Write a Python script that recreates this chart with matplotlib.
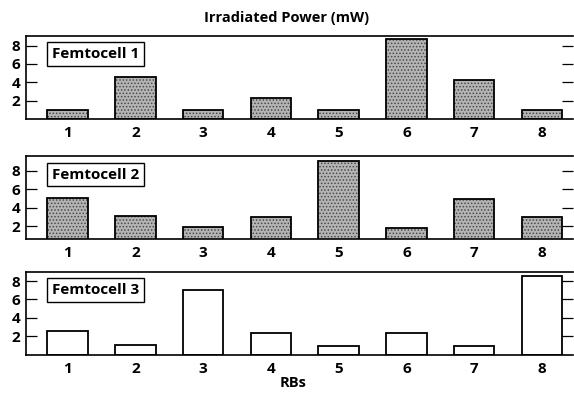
import matplotlib
matplotlib.use("Agg")
from matplotlib import pyplot as plt

rbs = [1, 2, 3, 4, 5, 6, 7, 8]
femto1 = [1.0, 4.55, 1.0, 2.3, 1.0, 8.7, 4.3, 1.0]
femto2 = [5.1, 3.1, 1.85, 2.95, 9.1, 1.8, 4.9, 2.95]
femto3 = [2.55, 1.05, 7.05, 2.35, 1.0, 2.35, 1.0, 8.55]
labels = ["Femtocell 1", "Femtocell 2", "Femtocell 3"]
yticks = [2, 4, 6, 8]

plt.rcParams['font.family'] = ['Open Sans', 'DejaVu Sans']
plt.rcParams['font.weight'] = 'bold'
plt.rcParams['hatch.linewidth'] = 0.7

fig = plt.figure(figsize=(5.74, 3.96), dpi=100)
bottoms = [0.6995, 0.3955, 0.104]
ylims = [(0, 9.05), (0.55, 9.57), (0, 9.0)]
series = [femto1, femto2, femto3]
faces = ['#b4b4b4', '#b4b4b4', 'white']
hatches = ['.....', '.....', None]

for i, vals in enumerate(series):
    ax = fig.add_axes([0.0453, bottoms[i], 0.953, 0.2096])
    ax.bar(rbs, vals, width=0.6, color=faces[i], edgecolor='#4a4a4a',
           hatch=hatches[i], linewidth=0)
    ax.bar(rbs, vals, width=0.6, fill=False, edgecolor='black', linewidth=1.3)
    ax.set_xlim(0.385, 8.46)
    ax.set_ylim(*ylims[i])
    ax.set_xticks(rbs)
    ax.set_yticks(yticks)
    ax.tick_params(axis='x', length=0, labelsize=11, pad=5)
    ax.tick_params(axis='y', direction='in', length=8, width=0.9,
                   labelsize=11, right=True, pad=4)
    for lab in ax.get_xticklabels() + ax.get_yticklabels():
        lab.set_fontweight('bold')
    ax.spines['right'].set_visible(False)
    for s in ['top', 'left', 'bottom']:
        ax.spines[s].set_linewidth(1.2)
    ax.text(0.047, 0.865, labels[i], transform=ax.transAxes, fontsize=11,
            fontweight='bold', va='top', ha='left',
            bbox=dict(boxstyle='square,pad=0.32', facecolor='white',
                      edgecolor='black', linewidth=1.0))

fig.text(0.5, 0.955, "Irradiated Power (mW)", ha='center', va='center',
         fontsize=10.5, fontweight='bold')
fig.text(0.51, 0.032, "RBs", ha='center', va='center', fontsize=10.5,
         fontweight='bold')

plt.savefig("out.png", dpi=100)
